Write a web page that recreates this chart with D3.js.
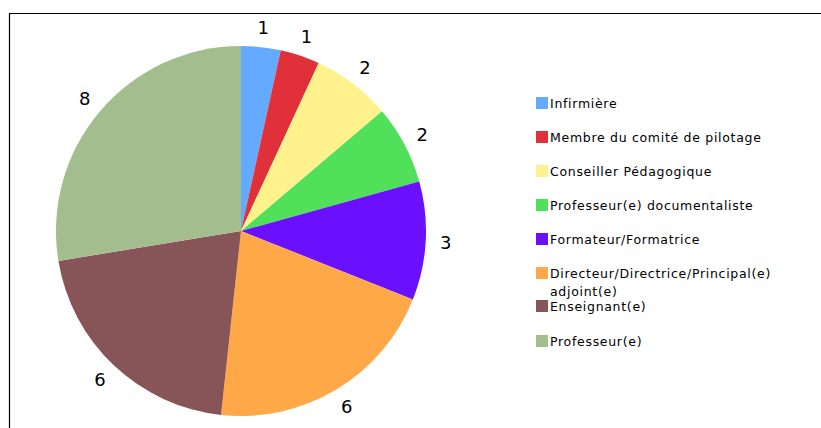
<!DOCTYPE html>
<html><head><meta charset="utf-8">
<script src="https://cdn.jsdelivr.net/npm/d3@7"></script>
<style>body{margin:0;background:#fff}svg{display:block}</style>
</head><body>
<svg id="c" width="821" height="428"></svg>
<script>
const categories = ["Infirmière","Membre du comité de pilotage","Conseiller Pédagogique","Professeur(e) documentaliste","Formateur/Formatrice","Directeur/Directrice/Principal(e) adjoint(e)","Enseignant(e)","Professeur(e)"];
const values = [1,1,2,2,3,6,6,8];
const colors = ["#64aaff","#e0303a","#fff28c","#50e05a","#6a10ff","#ffa848","#875457","#a3bd8f"];

const svg = d3.select("#c");
// frame
svg.append("path").attr("d","M9.5,428 V13.5 H821").attr("fill","none").attr("stroke","#000").attr("stroke-width",1.2);

const cx = 241, cy = 231, R = 185;
const data = categories.map((c,i)=>({c, v: values[i], col: colors[i]}));
const pie = d3.pie().value(d=>d.v).sort(null);
const arcs = pie(data);
const arc = d3.arc().innerRadius(0).outerRadius(R);
const g = svg.append("g").attr("transform",`translate(${cx},${cy})`);
g.selectAll("path").data(arcs).join("path").attr("d",arc).attr("fill",d=>d.data.col);
const labelArc = d3.arc().innerRadius(205).outerRadius(205);
g.selectAll("text").data(arcs).join("text")
  .attr("transform",d=>`translate(${labelArc.centroid(d)})`)
  .attr("text-anchor","middle").attr("dominant-baseline","central")
  .attr("font-family","DejaVu Sans, Verdana, sans-serif").attr("font-size",18).attr("fill","#000")
  .text(d=>d.data.v);

// legend
const lg = svg.append("g").attr("font-family","DejaVu Sans, Verdana, sans-serif").attr("font-size",12.5).attr("letter-spacing",0.7).attr("fill","#000");
const rowY = [103,137,171,205,239,273,306,341];
data.forEach((d,i)=>{
  const y = rowY[i];
  lg.append("rect").attr("x",536).attr("y",y-6).attr("width",12).attr("height",12).attr("fill",d.col);
  const lines = i===5 ? ["Directeur/Directrice/Principal(e)","adjoint(e)"] : [d.c];
  lines.forEach((t,j)=>{
    lg.append("text").attr("x",550).attr("y",y+j*18).attr("dominant-baseline","central").text(t);
  });
});
</script>
</body></html>
